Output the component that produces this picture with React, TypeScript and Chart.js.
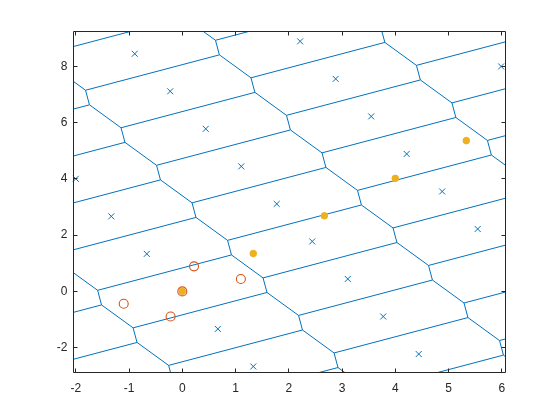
import React, { useEffect, useRef } from "react";
import { Chart, registerables } from "chart.js";

Chart.register(...registerables);

// ---- axis settings ----
const X_RANGE = [-2.043, 6.069];
const Y_RANGE = [-2.881, 9.233];
const X_TICKS = [-2, -1, 0, 1, 2, 3, 4, 5, 6];
const Y_TICKS = [-2, 0, 2, 4, 6, 8];

// ---- lattice basis (generates the Voronoi tessellation) ----
const BASIS_1 = [0.6667, -1.3333];
const BASIS_2 = [2.44, 1.775];

// ---- lattice points (blue crosses) ----
const LATTICE_X = [
  -2, -1.333, -0.667, 0, 0.667, 1.333,
  -0.893, -0.227, 0.44, 1.107, 1.773, 2.44, 3.107, 3.773, 4.44,
  2.213, 2.88, 3.547, 4.213, 4.88, 5.547,
  5.987,
];
const LATTICE_Y = [
  4, 2.667, 1.333, 0, -1.333, -2.667,
  8.442, 7.108, 5.775, 4.442, 3.108, 1.775, 0.442, -0.892, -2.225,
  8.883, 7.55, 6.217, 4.883, 3.55, 2.217,
  7.992,
];

// ---- orange open circles ----
const CIRCLE_X = [0, 0.22, -0.22, 1.1, -1.1];
const CIRCLE_Y = [0, 0.89, -0.89, 0.44, -0.44];

// ---- yellow filled dots ----
const DOT_X = [0, 1.333, 2.667, 4, 5.333];
const DOT_Y = [0, 1.345, 2.685, 4.015, 5.355];

const BLUE = "#0072BD";
const ORANGE = "#D95319";
const YELLOW = "#EDB120";
const AXIS = "#262626";
const TICK_LEN = 4;

type P = [number, number];

function clipPoly(poly: P[], n: P, c: number): P[] {
  const out: P[] = [];
  for (let i = 0; i < poly.length; i++) {
    const a = poly[i];
    const b = poly[(i + 1) % poly.length];
    const da = a[0] * n[0] + a[1] * n[1] - c;
    const db = b[0] * n[0] + b[1] * n[1] - c;
    if (da <= 0) out.push(a);
    if ((da < 0 && db > 0) || (da > 0 && db < 0)) {
      const t = da / (da - db);
      out.push([a[0] + t * (b[0] - a[0]), a[1] + t * (b[1] - a[1])]);
    }
  }
  return out;
}

function voronoiCell(): P[] {
  let poly: P[] = [
    [-20, -20],
    [20, -20],
    [20, 20],
    [-20, 20],
  ];
  for (let a = -3; a <= 3; a++) {
    for (let c = -3; c <= 3; c++) {
      if (a === 0 && c === 0) continue;
      const n: P = [a * BASIS_1[0] + c * BASIS_2[0], a * BASIS_1[1] + c * BASIS_2[1]];
      poly = clipPoly(poly, n, (n[0] * n[0] + n[1] * n[1]) / 2);
    }
  }
  const dedup: P[] = [];
  for (const p of poly) {
    const last = dedup[dedup.length - 1];
    if (!last || Math.hypot(p[0] - last[0], p[1] - last[1]) > 1e-9) dedup.push(p);
  }
  if (dedup.length > 1) {
    const f = dedup[0];
    const l = dedup[dedup.length - 1];
    if (Math.hypot(f[0] - l[0], f[1] - l[1]) < 1e-9) dedup.pop();
  }
  return dedup;
}

function voronoiSegments(): { x: number; y: number }[][] {
  const cell = voronoiCell();
  const half = cell.length === 6 ? 3 : cell.length;
  const segs: { x: number; y: number }[][] = [];
  const mx = 3;
  for (let i = -20; i <= 20; i++) {
    for (let j = -6; j <= 8; j++) {
      const px = i * BASIS_1[0] + j * BASIS_2[0];
      const py = i * BASIS_1[1] + j * BASIS_2[1];
      if (px < X_RANGE[0] - mx || px > X_RANGE[1] + mx || py < Y_RANGE[0] - mx || py > Y_RANGE[1] + mx) continue;
      for (let k = 0; k < half; k++) {
        const a = cell[k];
        const b = cell[(k + 1) % cell.length];
        let p1 = { x: px + a[0], y: py + a[1] };
        let p2 = { x: px + b[0], y: py + b[1] };
        if (p2.x < p1.x) [p1, p2] = [p2, p1];
        const minX = Math.min(p1.x, p2.x), maxX = Math.max(p1.x, p2.x);
        const minY = Math.min(p1.y, p2.y), maxY = Math.max(p1.y, p2.y);
        if (maxX < X_RANGE[0] || minX > X_RANGE[1] || maxY < Y_RANGE[0] || minY > Y_RANGE[1]) continue;
        segs.push([p1, p2]);
      }
    }
  }
  return segs;
}

const boxPlugin = {
  id: "matlabBox",
  afterDatasetsDraw(chart: any) {
    const { ctx, chartArea: a, scales } = chart;
    ctx.save();
    ctx.strokeStyle = AXIS;
    ctx.lineWidth = 1;
    ctx.beginPath();
    X_TICKS.forEach((v) => {
      const px = Math.round(scales.x.getPixelForValue(v) - 0.5) + 0.5;
      ctx.moveTo(px, a.bottom);
      ctx.lineTo(px, a.bottom - TICK_LEN);
      ctx.moveTo(px, a.top);
      ctx.lineTo(px, a.top + TICK_LEN);
    });
    Y_TICKS.forEach((v) => {
      const py = Math.round(scales.y.getPixelForValue(v) - 0.5) + 0.5;
      ctx.moveTo(a.left, py);
      ctx.lineTo(a.left + TICK_LEN, py);
      ctx.moveTo(a.right, py);
      ctx.lineTo(a.right - TICK_LEN, py);
    });
    ctx.rect(a.left, a.top, a.right - a.left, a.bottom - a.top);
    ctx.stroke();
    ctx.restore();
  },
};

export default function App() {
  const ref = useRef<HTMLCanvasElement>(null);

  useEffect(() => {
    if (!ref.current) return;
    const segs = voronoiSegments();
    const segDatasets = segs.map((s) => ({
      type: "scatter" as const,
      data: s,
      showLine: true,
      borderColor: BLUE,
      borderWidth: 1,
      pointRadius: 0,
      pointHoverRadius: 0,
      clip: 0,
    }));
    const font = { family: "'Liberation Sans', Arial, Helvetica, sans-serif", size: 12 };
    const chart = new Chart(ref.current, {
      type: "scatter",
      data: {
        datasets: [
          {
            data: CIRCLE_X.map((x, i) => ({ x, y: CIRCLE_Y[i] })),
            pointStyle: "circle",
            pointRadius: 4.5,
            borderColor: ORANGE,
            backgroundColor: "rgba(0,0,0,0)",
            borderWidth: 1.1,
            clip: false,
          },
          {
            data: DOT_X.map((x, i) => ({ x, y: DOT_Y[i] })),
            pointStyle: "circle",
            pointRadius: 3.3,
            borderColor: YELLOW,
            backgroundColor: YELLOW,
            borderWidth: 1,
            clip: false,
          },
          {
            data: LATTICE_X.map((x, i) => ({ x, y: LATTICE_Y[i] })),
            pointStyle: "crossRot",
            pointRadius: 4.2,
            borderColor: BLUE,
            borderWidth: 1,
            clip: false,
          },
          ...segDatasets,
        ] as any,
      },
      options: {
        animation: false,
        responsive: false,
        maintainAspectRatio: false,
        events: [],
        layout: { padding: { left: 0, top: 31.5, right: 54.5, bottom: 0 } },
        plugins: { legend: { display: false }, tooltip: { enabled: false } },
        scales: {
          x: {
            type: "linear",
            min: X_RANGE[0],
            max: X_RANGE[1],
            grid: { display: false, drawTicks: false },
            border: { display: false },
            afterBuildTicks: (s: any) => {
              s.ticks = X_TICKS.map((v) => ({ value: v }));
            },
            afterFit: (s: any) => {
              s.height = 47.5;
            },
            ticks: {
              autoSkip: false,
              maxRotation: 0,
              padding: 9,
              color: AXIS,
              font,
              callback: (v: any) => String(v),
            },
          },
          y: {
            type: "linear",
            min: Y_RANGE[0],
            max: Y_RANGE[1],
            grid: { display: false, drawTicks: false },
            border: { display: false },
            afterBuildTicks: (s: any) => {
              s.ticks = Y_TICKS.map((v) => ({ value: v }));
            },
            afterFit: (s: any) => {
              s.width = 73.5;
            },
            ticks: {
              autoSkip: false,
              padding: 6,
              color: AXIS,
              font,
              callback: (v: any) => String(v),
            },
          },
        },
      },
      plugins: [boxPlugin],
    });
    return () => chart.destroy();
  }, []);

  return (
    <div style={{ position: "fixed", left: 0, top: 0, width: 560, height: 420, background: "#fff" }}>
      <canvas ref={ref} width={560} height={420} style={{ width: 560, height: 420, display: "block" }} />
    </div>
  );
}
